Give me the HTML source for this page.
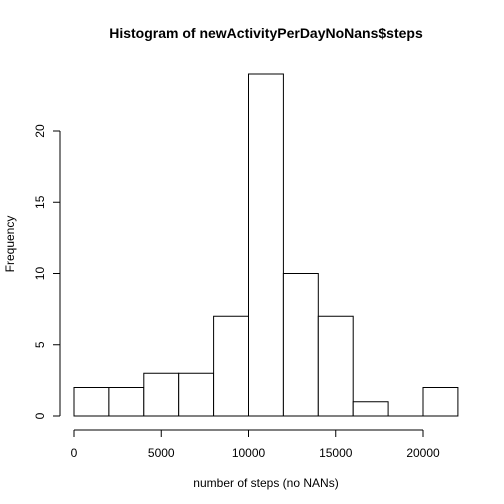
<!DOCTYPE html>
<html><head><meta charset="utf-8"><style>
html,body{margin:0;padding:0;background:#fff;}
svg{display:block;font-family:"Liberation Sans",Arial,sans-serif;}
</style></head><body>
<svg id="chart" width="504" height="504" viewBox="0 0 504 504">
<text x="266" y="38" text-anchor="middle" font-size="14" font-weight="bold">Histogram of newActivityPerDayNoNans$steps</text>
<text x="266" y="487" text-anchor="middle" font-size="12">number of steps (no NANs)</text>
<text x="14" y="244" text-anchor="middle" font-size="12" transform="rotate(-90 14 244)">Frequency</text>
<g id="bars"></g><g id="xaxis"></g><g id="yaxis"></g>
</svg>
<script>
const binEdges=[0,2000,4000,6000,8000,10000,12000,14000,16000,18000,20000,22000];
const counts=[2,2,3,3,7,24,10,7,1,0,2];
const xTicks=[0,5000,10000,15000,20000];
const yTicks=[0,5,10,15,20];
const NS='http://www.w3.org/2000/svg';
const xs=v=>74+v*(349/20000);
const ys=v=>416-v*14.25;
function mk(t,a,p){const e=document.createElementNS(NS,t);for(const k in a)e.setAttribute(k,a[k]);p.appendChild(e);return e;}
const bars=document.getElementById('bars');
counts.forEach((c,i)=>{
 let r;
 if(c===0){
  r=mk('line',{x1:xs(binEdges[i]),x2:xs(binEdges[i+1]),y1:ys(0),y2:ys(0),stroke:'#000','stroke-width':1},bars);
 } else {
  r=mk('rect',{x:xs(binEdges[i]),y:ys(c),width:xs(binEdges[i+1])-xs(binEdges[i]),height:ys(0)-ys(c),fill:'#fff',stroke:'#000','stroke-width':1},bars);
 }
 
 
});
const xa=document.getElementById('xaxis');
const xl=mk('line',{x1:xs(xTicks[0]),x2:xs(xTicks[xTicks.length-1]),y1:430,y2:430,stroke:'#000'},xa);


xTicks.forEach(t=>{
 mk('line',{x1:xs(t),x2:xs(t),y1:430,y2:437,stroke:'#000'},xa);
 const tx=mk('text',{x:xs(t),y:457,'text-anchor':'middle','font-size':12},xa);tx.textContent=t;
 
 
});
const ya=document.getElementById('yaxis');
const yl=mk('line',{x1:60,x2:60,y1:ys(yTicks[0]),y2:ys(yTicks[yTicks.length-1]),stroke:'#000'},ya);


yTicks.forEach(t=>{
 mk('line',{x1:53,x2:60,y1:ys(t),y2:ys(t),stroke:'#000'},ya);
 const tx=mk('text',{x:44,y:ys(t),'text-anchor':'middle','font-size':12,transform:`rotate(-90 44 ${ys(t)})`},ya);tx.textContent=t;
 
 
});
</script>
</body></html>
